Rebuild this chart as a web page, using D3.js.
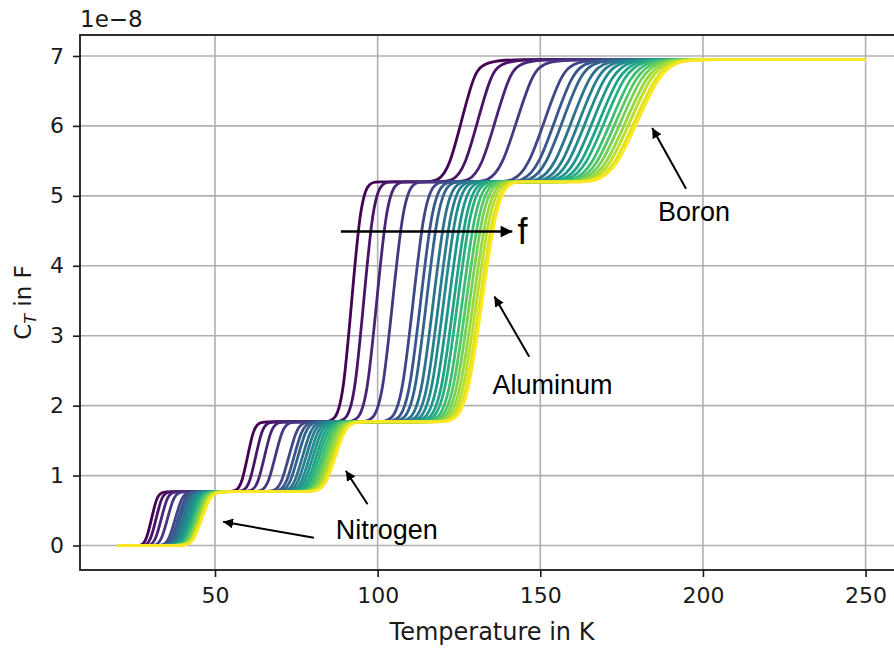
<!DOCTYPE html>
<html>
<head>
<meta charset="utf-8">
<script src="https://cdn.jsdelivr.net/npm/d3@7"></script>
<style>
  body { margin: 0; background: #fff; }
  svg text { font-family: "DejaVu Sans", sans-serif; fill: #1a1a1a; }
  .note { font-family: "Liberation Sans", Arial, sans-serif; }
</style>
</head>
<body>
<div id="chart"></div>
<script>
// capacitance levels of the plateaus, in units of 1e-8 F
var levels = [0, 0.77, 1.77, 5.2, 6.95];
var tFirst = 20, tLast = 250;

// step centres (K) for each of the 20 frequencies, low f -> high f
var nitrogenT = [30.5, 31.9, 33.5, 35.4, 37.8, 38.7, 39.4, 40.2, 40.9, 41.4, 42.1, 42.6, 43.1, 43.6, 44.1, 44.5, 45.0, 45.4, 45.7, 46.0];
var secondT   = [60.0, 62.5, 65.2, 68.5, 72.7, 74.3, 75.5, 76.9, 78.0, 79.1, 80.1, 81.1, 82.0, 82.9, 83.7, 84.4, 85.2, 85.9, 86.5, 87.0];
var aluminumT = [92.0, 95.7, 99.7, 104.6, 110.9, 113.2, 115.0, 117.1, 118.8, 120.3, 121.9, 123.4, 124.6, 126.0, 127.2, 128.3, 129.4, 130.4, 131.4, 132.1];
var boronT    = [125.8, 130.8, 136.2, 142.8, 151.3, 154.5, 156.9, 159.7, 162.0, 164.1, 166.2, 168.2, 169.9, 171.8, 173.4, 174.9, 176.4, 177.7, 179.1, 180.0];

// step widths (K)
var nitrogenW = [6.0, 6.3, 6.6, 6.9, 7.4, 7.6, 7.7, 7.9, 8.0, 8.1, 8.2, 8.3, 8.4, 8.5, 8.6, 8.7, 8.8, 8.9, 8.9, 9.0];
var secondW   = [7.0, 7.4, 7.8, 8.3, 8.9, 9.1, 9.3, 9.5, 9.7, 9.8, 10.0, 10.1, 10.3, 10.4, 10.5, 10.6, 10.7, 10.8, 10.9, 11.0];
var aluminumW = [10.0, 10.6, 11.2, 11.9, 12.8, 13.2, 13.4, 13.8, 14.0, 14.2, 14.5, 14.7, 14.9, 15.1, 15.3, 15.4, 15.6, 15.7, 15.9, 16.0];
var boronW    = [15.0, 16.0, 17.1, 18.5, 20.2, 20.8, 21.3, 21.9, 22.3, 22.8, 23.2, 23.6, 23.9, 24.3, 24.7, 25.0, 25.3, 25.5, 25.8, 26.0];

var xTicks = [50, 100, 150, 200, 250];
var yTicks = [0, 1, 2, 3, 4, 5, 6, 7];

// annotations in data coordinates
var arrows = [
    { from: [80.4, 0.11], to: [52.5, 0.34] },
    { from: [96.9, 0.59], to: [90.2, 1.07] },
    { from: [146.6, 2.70], to: [135.9, 3.56] },
    { from: [194.8, 5.10], to: [184.4, 5.97] }
];
var labels = [
    { text: "Nitrogen", at: [87.1, 0.23] },
    { text: "Aluminum", at: [135.3, 2.30] },
    { text: "Boron", at: [186.2, 4.77] }
];

var width = 894, height = 651;
var mLeft = 80, mTop = 35, mRight = 903, mBottom = 570;

var svg = d3.select("#chart").append("svg")
    .attr("width", width)
    .attr("height", height);

var x = d3.scaleLinear().domain([8.5, 261.5]).range([mLeft, mRight]);
var y = d3.scaleLinear().domain([-0.35, 7.3]).range([mBottom, mTop]);

// grid
svg.append("g").selectAll("line").data(xTicks).enter().append("line")
    .attr("x1", function(d){ return x(d); }).attr("x2", function(d){ return x(d); })
    .attr("y1", mTop).attr("y2", mBottom)
    .attr("stroke", "#b0b0b0").attr("stroke-width", 1.6);
svg.append("g").selectAll("line").data(yTicks).enter().append("line")
    .attr("y1", function(d){ return y(d); }).attr("y2", function(d){ return y(d); })
    .attr("x1", mLeft).attr("x2", mRight)
    .attr("stroke", "#b0b0b0").attr("stroke-width", 1.6);

// curves: four control points per step, smoothed by a B-spline
var steps = [
    { c: nitrogenT, w: nitrogenW },
    { c: secondT, w: secondW },
    { c: aluminumT, w: aluminumW },
    { c: boronT, w: boronW }
];
var nCurves = nitrogenT.length;
var curves = d3.range(nCurves).map(function(i){
    var pts = [[tFirst, levels[0]]];
    steps.forEach(function(s, k){
        var c = s.c[i], w = s.w[i];
        pts.push([c - 0.7 * w, levels[k]]);
        pts.push([c - 0.25 * w, levels[k]]);
        pts.push([c + 0.25 * w, levels[k + 1]]);
        pts.push([c + 0.7 * w, levels[k + 1]]);
    });
    pts.push([tLast, levels[levels.length - 1]]);
    return pts;
});

var line = d3.line()
    .x(function(d){ return x(d[0]); })
    .y(function(d){ return y(d[1]); })
    .curve(d3.curveBasis);

svg.append("g").selectAll("path").data(curves).enter().append("path")
    .attr("d", line)
    .attr("fill", "none")
    .attr("stroke-width", 2.8)
    .attr("stroke", function(d, i){ return d3.interpolateViridis(i / (nCurves - 1)); });

// axes
var xAxis = svg.append("g")
    .attr("transform", "translate(0," + mBottom + ")")
    .call(d3.axisBottom(x).tickValues(xTicks).tickSize(7).tickPadding(8).tickFormat(d3.format("d")));
var yAxis = svg.append("g")
    .attr("transform", "translate(" + mLeft + ",0)")
    .call(d3.axisLeft(y).tickValues(yTicks).tickSize(7).tickPadding(9).tickFormat(d3.format("d")));
[xAxis, yAxis].forEach(function(a){
    a.select(".domain").remove();
    a.selectAll(".tick line").attr("stroke", "#1a1a1a").attr("stroke-width", 1.6);
    a.selectAll(".tick text").attr("font-size", 22).attr("font-family", "DejaVu Sans").attr("fill", "#1a1a1a");
});
xAxis.selectAll(".tick text").attr("dy", "0.8em");

// spines
svg.append("rect")
    .attr("x", mLeft).attr("y", mTop)
    .attr("width", mRight - mLeft).attr("height", mBottom - mTop)
    .attr("fill", "none").attr("stroke", "#1a1a1a").attr("stroke-width", 1.8);

svg.append("text").attr("x", mLeft).attr("y", 27)
    .attr("font-size", 23).text("1e\u22128");

svg.append("text")
    .attr("x", 492).attr("y", 640)
    .attr("text-anchor", "middle").attr("font-size", 24)
    .text("Temperature in K");

var yl = svg.append("text")
    .attr("transform", "translate(31," + ((mTop + mBottom) / 2) + ") rotate(-90)")
    .attr("text-anchor", "middle").attr("font-size", 23);
yl.append("tspan").text("C");
yl.append("tspan").attr("font-size", 16).attr("font-style", "italic").attr("dy", 5).text("T");
yl.append("tspan").attr("dy", -5).text(" in F");

// annotations
var defs = svg.append("defs");
defs.append("marker").attr("id", "head")
    .attr("viewBox", "0 0 10 10").attr("refX", 10).attr("refY", 5)
    .attr("markerWidth", 5).attr("markerHeight", 5).attr("orient", "auto")
    .append("path").attr("d", "M0,0L10,5L0,10z").attr("fill", "#000");
defs.append("marker").attr("id", "bighead")
    .attr("viewBox", "0 0 10 10").attr("refX", 10).attr("refY", 5)
    .attr("markerWidth", 5.5).attr("markerHeight", 4.5).attr("orient", "auto")
    .append("path").attr("d", "M0,0L10,5L0,10z").attr("fill", "#000");

svg.append("g").selectAll("line").data(arrows).enter().append("line")
    .attr("x1", function(d){ return x(d.from[0]); })
    .attr("y1", function(d){ return y(d.from[1]); })
    .attr("x2", function(d){ return x(d.to[0]); })
    .attr("y2", function(d){ return y(d.to[1]); })
    .attr("stroke", "#000").attr("stroke-width", 2)
    .attr("marker-end", "url(#head)");

svg.append("g").selectAll("text").data(labels).enter().append("text")
    .attr("class", "note")
    .attr("x", function(d){ return x(d.at[0]); })
    .attr("y", function(d){ return y(d.at[1]); })
    .attr("dy", "0.35em")
    .attr("font-size", 27)
    .style("fill", "#000")
    .text(function(d){ return d.text; });

// frequency arrow
var fFrom = [88.7, 4.49], fTo = [141.4, 4.49];
svg.append("line")
    .attr("x1", x(fFrom[0])).attr("y1", y(fFrom[1]))
    .attr("x2", x(fTo[0])).attr("y2", y(fTo[1]))
    .attr("stroke", "#000").attr("stroke-width", 2.6)
    .attr("marker-end", "url(#bighead)");
svg.append("text").attr("class", "note")
    .attr("x", x(143.0)).attr("y", y(4.49))
    .attr("dy", "0.36em").attr("font-size", 36)
    .style("fill", "#000")
    .text("f");
</script>
</body>
</html>
